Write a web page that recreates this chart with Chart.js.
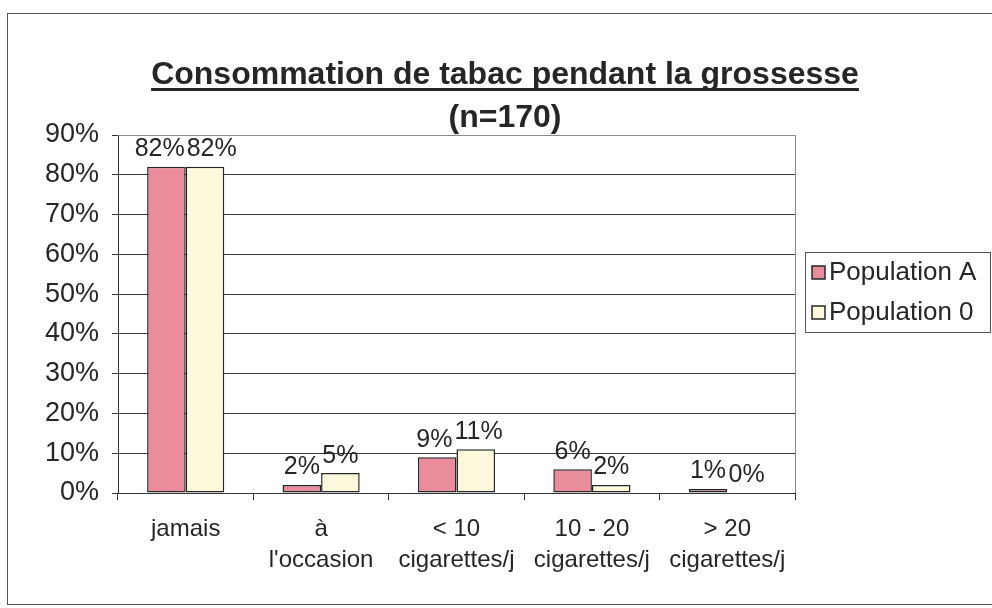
<!DOCTYPE html>
<html>
<head>
<meta charset="utf-8">
<script src="https://cdn.jsdelivr.net/npm/chart.js@4.4.0/dist/chart.umd.min.js"></script>
<style>
    html, body { margin: 0; padding: 0; background: #fff; }
    #wrap { width: 992px; height: 608px; }
</style>
</head>
<body>
<div id="wrap"><canvas id="chart" width="992" height="608"></canvas></div>
<script>
const titleLines = ['Consommation de tabac pendant la grossesse', '(n=170)'];
const categories = [
    ['jamais'],
    ['à', "l'occasion"],
    ['< 10', 'cigarettes/j'],
    ['10 - 20', 'cigarettes/j'],
    ['> 20', 'cigarettes/j']
];
const seriesNames = ['Population A', 'Population 0'];
const populationA = [82, 2, 9, 6, 1];
const population0 = [82, 5, 11, 2, 0];
const yTicks = [0, 10, 20, 30, 40, 50, 60, 70, 80, 90];

const FONT = "'Liberation Sans', Arial, sans-serif";
const colors = ['#ea8c9c', '#fbf8dc'];
const ink = '#262626';

// outer frame, plot area frame
const framePlugin = {
    id: 'frame',
    beforeDraw(chart) {
        const ctx = chart.ctx;
        ctx.save();
        ctx.fillStyle = '#fff';
        ctx.fillRect(0, 0, chart.width, chart.height);
        ctx.strokeStyle = '#555';
        ctx.lineWidth = 1;
        ctx.strokeRect(7.5, 13.5, chart.width, 591);
        ctx.restore();
    },
    afterDraw(chart) {
        const { ctx, chartArea: a } = chart;
        ctx.save();
        ctx.strokeStyle = '#8a8a8a';
        ctx.lineWidth = 1;
        ctx.beginPath();
        ctx.moveTo(a.left, a.top + 0.5);
        ctx.lineTo(a.right + 0.5, a.top + 0.5);
        ctx.lineTo(a.right + 0.5, a.bottom);
        ctx.stroke();
        ctx.restore();
    }
};

// title with underline on first line
const titlePlugin = {
    id: 'bigTitle',
    afterDraw(chart) {
        const ctx = chart.ctx;
        const cx = 505;
        ctx.save();
        ctx.fillStyle = ink;
        ctx.textAlign = 'center';
        ctx.textBaseline = 'alphabetic';
        ctx.font = 'bold 32px ' + FONT;
        ctx.fillText(titleLines[0], cx, 84);
        const w = ctx.measureText(titleLines[0]).width;
        ctx.fillRect(cx - w / 2, 88, w, 3);
        ctx.fillText(titleLines[1], cx, 127);
        ctx.restore();
    }
};

// value labels above each bar
const valueLabels = {
    id: 'valueLabels',
    afterDatasetsDraw(chart) {
        const ctx = chart.ctx;
        ctx.save();
        ctx.font = '25px ' + FONT;
        ctx.fillStyle = ink;
        ctx.textBaseline = 'bottom';
        ctx.textAlign = 'center';
        const metas = chart.data.datasets.map((d, i) => chart.getDatasetMeta(i));
        categories.forEach((c, j) => {
            const items = metas.map((m, i) => {
                const el = m.data[j];
                const text = chart.data.datasets[i].data[j] + '%';
                return { x: el.x, y: el.y - 5, w: ctx.measureText(text).width, text };
            });
            // push apart labels that would overlap
            for (let k = 1; k < items.length; k++) {
                const over = (items[k - 1].x + items[k - 1].w / 2) - (items[k].x - items[k].w / 2);
                if (over > 0) {
                    items[k - 1].x -= over / 2 + 1;
                    items[k].x += over / 2 + 1;
                }
            }
            items.forEach(it => ctx.fillText(it.text, it.x, it.y));
        });
        ctx.restore();
    }
};

// boxed legend on the right
const boxLegend = {
    id: 'boxLegend',
    afterDraw(chart) {
        const ctx = chart.ctx;
        ctx.save();
        ctx.strokeStyle = '#555';
        ctx.lineWidth = 1;
        ctx.strokeRect(805.5, 252.5, 185, 80);
        ctx.font = '26px ' + FONT;
        ctx.textBaseline = 'middle';
        ctx.textAlign = 'left';
        chart.data.datasets.forEach((ds, i) => {
            const y = 272 + i * 40;
            ctx.fillStyle = ds.backgroundColor;
            ctx.fillRect(812, y - 6, 13, 13);
            ctx.strokeStyle = ink;
            ctx.lineWidth = 1.5;
            ctx.strokeRect(812, y - 6, 13, 13);
            ctx.fillStyle = ink;
            ctx.fillText(ds.label, 829, y + 1);
        });
        ctx.restore();
    }
};

new Chart(document.getElementById('chart'), {
    type: 'bar',
    data: {
        labels: categories,
        datasets: [
            {
                label: seriesNames[0],
                data: populationA,
                backgroundColor: colors[0],
                borderColor: ink,
                borderWidth: 1.5,
                borderSkipped: false,
                categoryPercentage: 0.57,
                barPercentage: 1
            },
            {
                label: seriesNames[1],
                data: population0,
                backgroundColor: colors[1],
                borderColor: ink,
                borderWidth: 1.5,
                borderSkipped: false,
                categoryPercentage: 0.57,
                barPercentage: 1
            }
        ]
    },
    options: {
        responsive: false,
        animation: false,
        layout: {
            padding: { left: 0, top: 135, right: 197, bottom: 0 }
        },
        plugins: {
            legend: { display: false },
            title: { display: false },
            tooltip: { enabled: false }
        },
        scales: {
            x: {
                grid: {
                    drawOnChartArea: false,
                    drawTicks: true,
                    tickLength: 7,
                    tickColor: '#333',
                    offset: true
                },
                border: { color: '#333', width: 1 },
                ticks: {
                    font: { family: FONT, size: 24, lineHeight: 1.3 },
                    color: ink,
                    padding: 14,
                    maxRotation: 0,
                    autoSkip: false
                },
                afterFit: (scale) => { scale.height = 115; }
            },
            y: {
                min: yTicks[0],
                max: yTicks[yTicks.length - 1],
                afterBuildTicks: (scale) => { scale.ticks = yTicks.map(v => ({ value: v })); },
                ticks: {
                    callback: (v) => v + '%',
                    font: { family: FONT, size: 27 },
                    color: ink,
                    padding: 13
                },
                grid: {
                    color: (c) => c.tick && c.tick.value === 90 ? '#8a8a8a' : '#3a3a3a',
                    tickColor: '#333',
                    tickLength: 6
                },
                border: { color: '#333', width: 1 },
                afterFit: (scale) => { scale.width = 118; }
            }
        }
    },
    plugins: [framePlugin, valueLabels, boxLegend, titlePlugin]
});
</script>
</body>
</html>
